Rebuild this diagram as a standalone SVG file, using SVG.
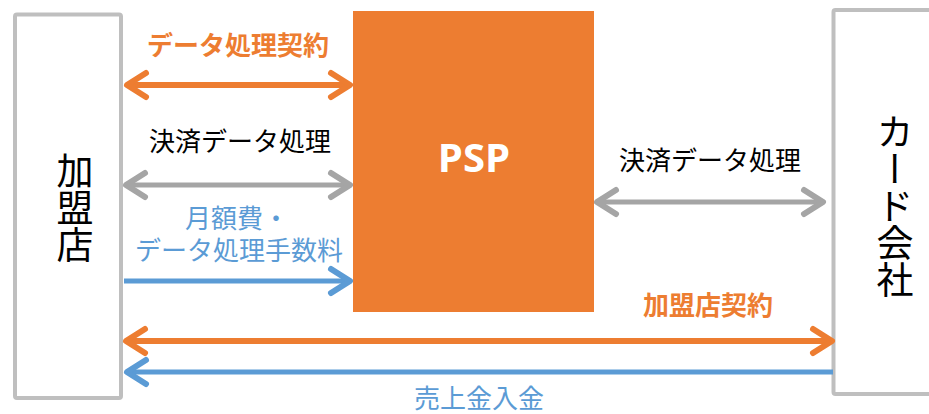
<svg xmlns="http://www.w3.org/2000/svg" width="929" height="414" viewBox="0 0 929 414">
<defs>
<style>
.box{fill:#fff;stroke:#BFBFBF;stroke-width:4}
.jp{font-family:"Noto Sans CJK JP","Noto Sans",sans-serif;font-size:26px;text-anchor:middle}
.big{font-family:"Noto Sans CJK JP","Noto Sans",sans-serif;font-size:37px;text-anchor:middle;writing-mode:vertical-rl;text-orientation:upright;fill:#000}
.or{fill:#ED7D31;font-weight:bold}
.bl{fill:#5B9BD5}
.bk{fill:#000}
.lo{stroke:#ED7D31;stroke-width:6;fill:none}
.lg{stroke:#A5A5A5;stroke-width:5;fill:none}
.lb{stroke:#5B9BD5;stroke-width:5;fill:none}
</style>
<marker id="mo" markerUnits="userSpaceOnUse" viewBox="-30 -20 36 40" refX="0" refY="0" markerWidth="36" markerHeight="40" orient="auto-start-reverse" overflow="visible"><path d="M-19,-12 L0,0 L-19,12" fill="none" stroke="#ED7D31" stroke-width="6" stroke-linecap="round" stroke-linejoin="round"/></marker>
<marker id="mg" markerUnits="userSpaceOnUse" viewBox="-30 -20 36 40" refX="0" refY="0" markerWidth="36" markerHeight="40" orient="auto-start-reverse" overflow="visible"><path d="M-19,-12 L0,0 L-19,12" fill="none" stroke="#A5A5A5" stroke-width="6" stroke-linecap="round" stroke-linejoin="round"/></marker>
<marker id="mb" markerUnits="userSpaceOnUse" viewBox="-30 -20 36 40" refX="0" refY="0" markerWidth="36" markerHeight="40" orient="auto-start-reverse" overflow="visible"><path d="M-19,-12 L0,0 L-19,12" fill="none" stroke="#5B9BD5" stroke-width="6" stroke-linecap="round" stroke-linejoin="round"/></marker>
</defs>
<rect width="929" height="414" fill="#fff"/>
<g id="merchant">
<rect class="box" x="15" y="14.5" width="106" height="383.5" rx="2"/>
<text class="big" x="75" y="208">加盟店</text>
</g>
<g id="card-company">
<rect class="box" x="833.5" y="10" width="110" height="384" rx="2"/>
<text class="big" x="895" y="206">カード会社</text>
</g>
<g id="psp">
<rect x="353" y="11" width="241" height="301" fill="#ED7D31"/>
<text x="474" y="172" font-family="'Open Sans',sans-serif" font-weight="bold" font-size="40" fill="#fff" text-anchor="middle">PSP</text>
</g>
<g id="connectors">
<line class="lo" x1="127" y1="85" x2="350" y2="85" marker-start="url(#mo)" marker-end="url(#mo)"/>
<line class="lg" x1="126" y1="185" x2="350" y2="185" marker-start="url(#mg)" marker-end="url(#mg)"/>
<line class="lb" x1="124" y1="281" x2="350" y2="281" marker-end="url(#mb)"/>
<line class="lg" x1="597" y1="202" x2="823" y2="202" marker-start="url(#mg)" marker-end="url(#mg)"/>
<line class="lo" x1="126" y1="341" x2="832" y2="341" marker-start="url(#mo)" marker-end="url(#mo)"/>
<line class="lb" x1="127" y1="372" x2="833" y2="372" marker-start="url(#mb)"/>
<text class="jp or" x="238" y="55">データ処理契約</text>
<text class="jp bk" x="240" y="151">決済データ処理</text>
<text class="jp bl"><tspan x="237" y="228">月額費・</tspan><tspan x="239" y="260">データ処理手数料</tspan></text>
<text class="jp bk" x="710" y="170">決済データ処理</text>
<text class="jp or" x="708" y="315">加盟店契約</text>
<text class="jp bl" x="479" y="408">売上金入金</text>
</g>
</svg>
